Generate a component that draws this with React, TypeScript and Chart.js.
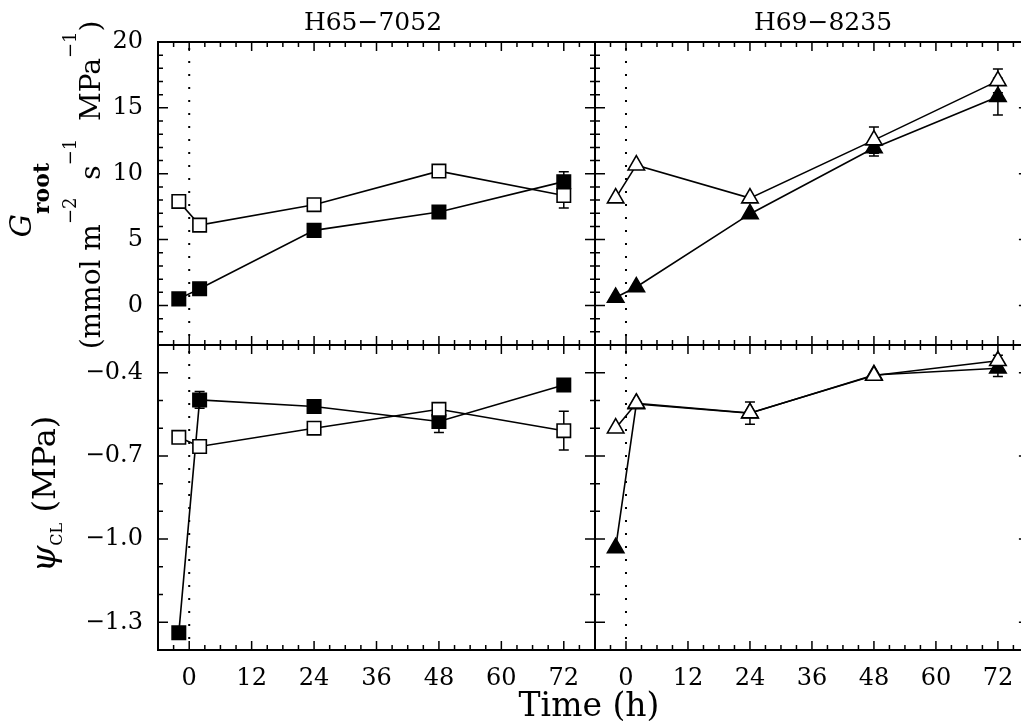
import React, { useEffect, useRef } from "react";
import { Chart, registerables } from "chart.js";

Chart.register(...registerables);

const FONT = "DejaVu Serif";

// ---- data ----
const timesH65 = [-2, 2, 24, 48, 72];
const timesH69 = [-2, 2, 24, 48, 72];

// G_root (mmol m-2 s-1 MPa-1)
const gRootH65Open = [7.9, 6.1, 7.65, 10.2, 8.35];
const gRootH65OpenErr = [0, 0, 0, 0, 0.95];
const gRootH65Filled = [0.5, 1.27, 5.7, 7.1, 9.4];
const gRootH65FilledErr = [0, 0, 0, 0, 0.75];

const gRootH69Open = [8.15, 10.65, 8.15, 12.55, 17.05];
const gRootH69OpenErr = [0, 0, 0, 1.0, 0.9];
const gRootH69Filled = [0.6, 1.4, 6.95, 11.95, 15.85];
const gRootH69FilledErr = [0, 0, 0, 0.6, 1.4];

// psi_CL (MPa)
const psiH65Open = [-0.633, -0.666, -0.6, -0.532, -0.609];
const psiH65OpenErr = [0, 0.02, 0, 0.02, 0.07];
const psiH65Filled = [-1.338, -0.498, -0.522, -0.576, -0.444];
const psiH65FilledErr = [0, 0.03, 0, 0.04, 0];

const psiH69Open = [-0.6, -0.51, -0.545, -0.41, -0.357];
const psiH69OpenErr = [0, 0, 0, 0, 0.02];
const psiH69Filled = [-1.032, -0.513, -0.546, -0.408, -0.384];
const psiH69FilledErr = [0, 0, 0.04, 0, 0.03];

// ---- ticks ----
const xTickLabels = [0, 12, 24, 36, 48, 60, 72];
const xMinorStep = 3;
const gRootTickLabels = [0, 5, 10, 15, 20];
const gRootMinorStep = 1;
const psiTickLabels = [-0.4, -0.7, -1.0, -1.3];
const psiMinorStep = 0.1;

const panelTitles = ["H65\u22127052", "H69\u22128235"];

// ---- layout ----
const CW = 1040;
const CH = 721;
const YW = 70;
const XH = 50;
const X_MIN = -6;
const X_MAX = 78;

type Series = { y: number[]; err: number[]; style: string; filled: boolean; x: number[] };
type Spec = {
  area: { left: number; right: number; top: number; bottom: number };
  yMin: number;
  yMax: number;
  yTicks: number[];
  yMinor: number;
  yFmt: (v: number) => string;
  showX: boolean;
  showY: boolean;
  series: Series[];
  texts?: (ctx: CanvasRenderingContext2D) => void;
};

type Seg = { t: string; font: string; dy?: number };

function drawRotated(ctx: CanvasRenderingContext2D, segs: Seg[], baselineX: number, centerY: number) {
  let total = 0;
  const widths = segs.map((s) => {
    ctx.font = s.font;
    const w = ctx.measureText(s.t).width;
    total += w;
    return w;
  });
  ctx.save();
  ctx.translate(baselineX, centerY + total / 2);
  ctx.rotate(-Math.PI / 2);
  ctx.fillStyle = "#000";
  ctx.textBaseline = "alphabetic";
  ctx.textAlign = "left";
  let x = 0;
  segs.forEach((s, i) => {
    ctx.font = s.font;
    ctx.fillText(s.t, x, s.dy || 0);
    x += widths[i];
  });
  ctx.restore();
}

function drawCentered(ctx: CanvasRenderingContext2D, text: string, font: string, cx: number, baseline: number) {
  ctx.save();
  ctx.font = font;
  ctx.fillStyle = "#000";
  ctx.textAlign = "center";
  ctx.textBaseline = "alphabetic";
  ctx.fillText(text, cx, baseline);
  ctx.restore();
}

function isMajor(v: number, majors: number[], tol: number) {
  return majors.some((m) => Math.abs(m - v) < tol);
}

function makeChart(canvas: HTMLCanvasElement, spec: Spec) {
  const frame = {
    id: "frame",
    beforeDatasetsDraw(chart: any) {
      const ctx = chart.ctx as CanvasRenderingContext2D;
      const { top, bottom } = chart.chartArea;
      const xs = chart.scales.x;
      const ys = chart.scales.y;
      // dotted line at time 0
      const x0 = xs.getPixelForValue(0);
      ctx.save();
      ctx.strokeStyle = "#000";
      ctx.lineWidth = 2;
      ctx.setLineDash([2, 11]);
      ctx.beginPath();
      ctx.moveTo(x0, top + 6);
      ctx.lineTo(x0, bottom);
      ctx.stroke();
      ctx.setLineDash([]);
      // error bars
      ctx.lineWidth = 1.5;
      spec.series.forEach((s) => {
        s.y.forEach((v, i) => {
          const e = s.err[i];
          if (!e) return;
          const px = xs.getPixelForValue(s.x[i]);
          const p1 = ys.getPixelForValue(v - e);
          const p2 = ys.getPixelForValue(v + e);
          ctx.beginPath();
          ctx.moveTo(px, p1);
          ctx.lineTo(px, p2);
          ctx.moveTo(px - 5, p1);
          ctx.lineTo(px + 5, p1);
          ctx.moveTo(px - 5, p2);
          ctx.lineTo(px + 5, p2);
          ctx.stroke();
        });
      });
      ctx.restore();
    },
    afterDraw(chart: any) {
      const ctx = chart.ctx as CanvasRenderingContext2D;
      const { left, right, top, bottom } = chart.chartArea;
      const xs = chart.scales.x;
      const ys = chart.scales.y;
      ctx.save();
      ctx.strokeStyle = "#000";
      ctx.lineWidth = 2;
      ctx.strokeRect(left, top, right - left, bottom - top);
      ctx.lineWidth = 1.5;
      ctx.beginPath();
      const nx = Math.round((X_MAX - X_MIN) / xMinorStep);
      for (let i = 0; i <= nx; i++) {
        const v = X_MIN + i * xMinorStep;
        const px = xs.getPixelForValue(v);
        const len = isMajor(v, xTickLabels, 1e-6) ? 9 : 5;
        ctx.moveTo(px, bottom);
        ctx.lineTo(px, bottom - len);
        ctx.moveTo(px, top);
        ctx.lineTo(px, top + len);
      }
      const ny = Math.round((spec.yMax - spec.yMin) / spec.yMinor);
      for (let i = 0; i <= ny; i++) {
        const v = spec.yMin + i * spec.yMinor;
        const py = ys.getPixelForValue(v);
        const len = isMajor(v, spec.yTicks, spec.yMinor / 100) ? 10 : 5;
        ctx.moveTo(left, py);
        ctx.lineTo(left + len, py);
        ctx.moveTo(right, py);
        ctx.lineTo(right - len, py);
      }
      ctx.stroke();
      ctx.restore();
      if (spec.texts) spec.texts(ctx);
    },
  };

  const datasets = spec.series.map((s) => ({
    data: s.x.map((x, i) => ({ x, y: s.y[i] })),
    showLine: true,
    borderColor: "#000",
    borderWidth: 1.6,
    pointStyle: s.style,
    pointRadius: 9.5,
    pointBackgroundColor: s.filled ? "#000" : "#fff",
    pointBorderColor: "#000",
    pointBorderWidth: 1.6,
    fill: false,
    clip: false,
  }));

  const a = spec.area;
  return new Chart(canvas, {
    type: "scatter",
    data: { datasets } as any,
    plugins: [frame],
    options: {
      responsive: false,
      animation: false,
      events: [],
      layout: {
        padding: {
          left: a.left - (spec.showY ? YW : 0),
          right: CW - a.right,
          top: a.top,
          bottom: CH - a.bottom - (spec.showX ? XH : 0),
        },
      },
      plugins: { legend: { display: false }, tooltip: { enabled: false } },
      scales: {
        x: {
          type: "linear",
          position: "bottom",
          min: X_MIN,
          max: X_MAX,
          grid: { display: false, drawTicks: false },
          border: { display: false },
          ticks: {
            display: spec.showX,
            font: { family: FONT, size: 24 },
            color: "#000",
            padding: 14,
            maxRotation: 0,
            autoSkip: false,
          },
          afterBuildTicks: (s: any) => {
            s.ticks = xTickLabels.map((v) => ({ value: v }));
          },
          afterFit: (s: any) => {
            s.height = spec.showX ? XH : 0;
          },
        },
        y: {
          type: "linear",
          position: "left",
          min: spec.yMin,
          max: spec.yMax,
          grid: { display: false, drawTicks: false },
          border: { display: false },
          ticks: {
            display: spec.showY,
            font: { family: FONT, size: 24 },
            color: "#000",
            padding: 15,
            autoSkip: false,
            callback: (v: any) => spec.yFmt(Number(v)),
          },
          afterBuildTicks: (s: any) => {
            s.ticks = spec.yTicks.map((v) => ({ value: v }));
          },
          afterFit: (s: any) => {
            s.width = spec.showY ? YW : 0;
          },
        },
      },
    } as any,
  });
}

const fmtG = (v: number) => String(v);
const fmtPsi = (v: number) => v.toFixed(1).replace("-", "\u2212");

export default function App() {
  const r1 = useRef<HTMLCanvasElement>(null);
  const r2 = useRef<HTMLCanvasElement>(null);
  const r3 = useRef<HTMLCanvasElement>(null);
  const r4 = useRef<HTMLCanvasElement>(null);

  useEffect(() => {
    const leftX = { left: 158, right: 595 };
    const rightX = { left: 595, right: 1030 };
    const topY = { top: 42, bottom: 345 };
    const botY = { top: 345, bottom: 650 };

    const specs: Spec[] = [
      {
        area: { ...leftX, ...topY },
        yMin: -3,
        yMax: 20,
        yTicks: gRootTickLabels,
        yMinor: gRootMinorStep,
        yFmt: fmtG,
        showX: false,
        showY: true,
        series: [
          { x: timesH65, y: gRootH65Open, err: gRootH65OpenErr, style: "rect", filled: false },
          { x: timesH65, y: gRootH65Filled, err: gRootH65FilledErr, style: "rect", filled: true },
        ],
        texts: (ctx) => {
          drawCentered(ctx, panelTitles[0], `25px "${FONT}"`, 373, 30);
          drawRotated(
            ctx,
            [
              { t: "G", font: `italic 29px "${FONT}"` },
              { t: "root", font: `bold 22px "${FONT}"`, dy: 18 },
            ],
            31,
            200
          );
          drawRotated(
            ctx,
            [
              { t: "(mmol m", font: `28px "${FONT}"` },
              { t: "\u22122", font: `18px "${FONT}"`, dy: -24 },
              { t: "  s", font: `28px "${FONT}"` },
              { t: "\u22121", font: `18px "${FONT}"`, dy: -24 },
              { t: "  MPa", font: `28px "${FONT}"` },
              { t: "\u22121", font: `18px "${FONT}"`, dy: -24 },
              { t: ")", font: `28px "${FONT}"` },
            ],
            100,
            185
          );
        },
      },
      {
        area: { ...rightX, ...topY },
        yMin: -3,
        yMax: 20,
        yTicks: gRootTickLabels,
        yMinor: gRootMinorStep,
        yFmt: fmtG,
        showX: false,
        showY: false,
        series: [
          { x: timesH69, y: gRootH69Open, err: gRootH69OpenErr, style: "triangle", filled: false },
          { x: timesH69, y: gRootH69Filled, err: gRootH69FilledErr, style: "triangle", filled: true },
        ],
        texts: (ctx) => {
          drawCentered(ctx, panelTitles[1], `25px "${FONT}"`, 823, 30);
        },
      },
      {
        area: { ...leftX, ...botY },
        yMin: -1.4,
        yMax: -0.3,
        yTicks: psiTickLabels,
        yMinor: psiMinorStep,
        yFmt: fmtPsi,
        showX: true,
        showY: true,
        series: [
          { x: timesH65, y: psiH65Open, err: psiH65OpenErr, style: "rect", filled: false },
          { x: timesH65, y: psiH65Filled, err: psiH65FilledErr, style: "rect", filled: true },
        ],
        texts: (ctx) => {
          drawRotated(
            ctx,
            [
              { t: "\u03C8", font: `italic 34px "${FONT}"` },
              { t: "CL", font: `16px "${FONT}"`, dy: 7 },
              { t: " (MPa)", font: `32px "${FONT}"` },
            ],
            55,
            494
          );
          drawCentered(ctx, "Time (h)", `33px "${FONT}"`, 589, 716);
        },
      },
      {
        area: { ...rightX, ...botY },
        yMin: -1.4,
        yMax: -0.3,
        yTicks: psiTickLabels,
        yMinor: psiMinorStep,
        yFmt: fmtPsi,
        showX: true,
        showY: false,
        series: [
          { x: timesH69, y: psiH69Open, err: psiH69OpenErr, style: "triangle", filled: false },
          { x: timesH69, y: psiH69Filled, err: psiH69FilledErr, style: "triangle", filled: true },
        ],
      },
    ];

    const refs = [r1, r2, r3, r4];
    const charts = specs.map((s, i) => makeChart(refs[i].current as HTMLCanvasElement, s));
    return () => charts.forEach((c) => c.destroy());
  }, []);

  const cStyle: React.CSSProperties = {
    position: "absolute",
    left: 0,
    top: 0,
    width: CW,
    height: CH,
  };

  return (
    <div
      style={{
        position: "fixed",
        left: 0,
        top: 0,
        width: 1021,
        height: 721,
        overflow: "hidden",
        background: "#fff",
      }}
    >
      <canvas ref={r1} width={CW} height={CH} style={cStyle} />
      <canvas ref={r2} width={CW} height={CH} style={cStyle} />
      <canvas ref={r3} width={CW} height={CH} style={cStyle} />
      <canvas ref={r4} width={CW} height={CH} style={cStyle} />
    </div>
  );
}
